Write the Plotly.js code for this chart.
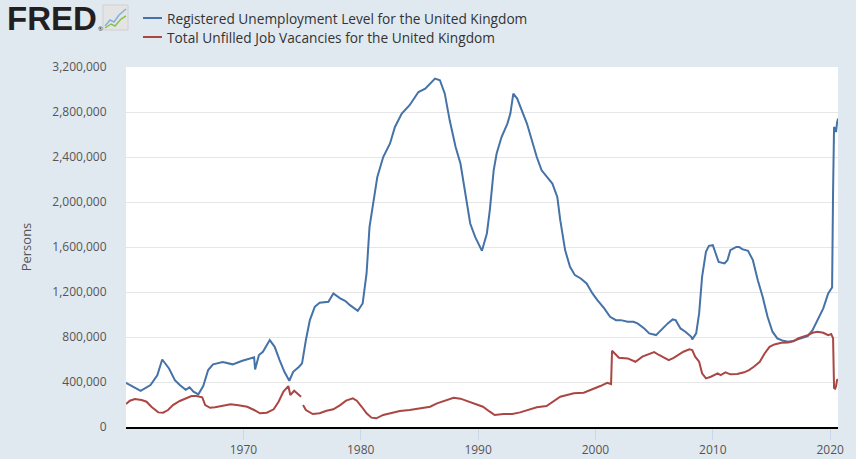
<!DOCTYPE html>
<html>
<head>
<meta charset="utf-8">
<script src="https://cdn.plot.ly/plotly-3.0.1.min.js"></script>
<style>
html,body{margin:0;padding:0;background:#e1e9f0;}
#chart{width:856px;height:459px;}
</style>
</head>
<body>
<div id="chart"></div>
<script>
// Registered Unemployment Level for the United Kingdom (persons)
const unempDates = [
"1960-01","1961-04","1962-02","1962-09","1963-02","1963-09","1964-03","1964-08","1965-02","1965-06",
"1965-10","1966-03","1966-08","1967-01","1967-06","1968-04","1969-02","1969-12","1970-12","1971-01",
"1971-05","1971-09","1972-04","1972-09","1973-02","1973-07","1973-12","1974-04","1974-10","1975-01",
"1975-05","1975-09","1976-02","1976-07","1977-04","1977-09","1978-04","1978-09","1979-02","1979-10",
"1980-03","1980-07","1980-10","1981-02","1981-06","1981-12","1982-07","1982-12","1983-07","1984-03",
"1984-12","1985-07","1985-12","1986-05","1986-10","1987-03","1987-08","1988-02","1988-07","1988-12",
"1989-05","1989-10","1990-03","1990-05","1990-10","1991-01","1991-05","1991-08","1992-01","1992-07",
"1992-10","1993-01","1993-05","1993-10","1994-03","1994-08","1995-01","1995-06","1995-11","1996-05",
"1996-10","1997-01","1997-06","1997-11","1998-04","1998-10","1999-04","1999-10","2000-03","2000-10",
"2001-04","2001-10","2002-03","2002-10","2003-04","2003-08","2004-03","2004-08","2005-03","2005-08",
"2006-03","2006-08","2006-11","2007-04","2007-09","2008-03","2008-04","2008-08","2008-11","2009-02",
"2009-06","2009-09","2010-01","2010-04","2010-07","2011-01","2011-04","2011-07","2012-01","2012-04",
"2012-07","2013-01","2013-06","2013-11","2014-04","2014-09","2015-02","2015-07","2016-01","2016-06",
"2016-11","2017-04","2017-09","2018-02","2018-07","2018-12","2019-06","2019-11","2020-02","2020-03",
"2020-04","2020-05","2020-06","2020-07","2020-08","2020-09"];
const unempValues = [
393000,322000,373000,460000,600000,520000,417000,373000,330000,352000,
314000,290000,364000,506000,557000,577000,557000,589000,619000,512000,
640000,669000,773000,713000,595000,491000,411000,491000,536000,566000,
773000,950000,1068000,1104000,1113000,1187000,1143000,1122000,1083000,1033000,
1098000,1365000,1779000,2016000,2223000,2400000,2520000,2667000,2786000,2860000,
2978000,3008000,3052000,3097000,3082000,2963000,2726000,2489000,2342000,2075000,
1809000,1690000,1601000,1566000,1720000,1927000,2282000,2431000,2578000,2697000,
2786000,2963000,2919000,2815000,2697000,2549000,2400000,2282000,2223000,2164000,
2045000,1838000,1572000,1424000,1350000,1320000,1276000,1187000,1128000,1054000,
980000,950000,950000,935000,935000,921000,876000,832000,817000,861000,
921000,956000,950000,876000,847000,802000,779000,832000,1010000,1335000,
1557000,1610000,1616000,1542000,1468000,1454000,1483000,1572000,1601000,1601000,
1581000,1566000,1483000,1305000,1157000,980000,847000,788000,766000,758000,
764000,779000,797000,808000,861000,950000,1054000,1187000,1232000,1240000,
2100000,2667000,2650000,2622000,2700000,2742000];

// Total Unfilled Job Vacancies for the United Kingdom (persons); null = missing
const vacDates = [
"1960-01","1960-05","1960-10","1961-05","1961-10","1962-03","1962-10","1963-03","1963-08","1964-01",
"1964-08","1965-03","1965-08","1966-01","1966-07","1966-10","1967-03","1967-08","1968-03","1968-12",
"1969-08","1970-05","1970-12","1971-06","1972-01","1972-08","1973-01","1973-06","1973-11","1974-01",
"1974-05","1974-10","1974-12","1975-01","1975-02","1975-05","1975-12","1976-07","1977-02","1977-09",
"1978-04","1978-10","1979-05","1979-09","1980-02","1980-07","1980-12","1981-05","1981-12","1982-07",
"1983-05","1984-03","1985-02","1985-12","1986-07","1987-03","1987-12","1988-07","1989-01","1989-10",
"1990-06","1991-01","1991-06","1992-03","1992-12","1993-08","1994-05","1995-01","1995-11","1996-06",
"1997-01","1997-08","1998-03","1999-01","1999-10","2000-06","2001-01","2001-05","2001-06","2001-09",
"2002-01","2002-10","2003-06","2004-01","2004-08","2005-01","2005-06","2005-11","2006-04","2006-09",
"2007-02","2007-07","2008-01","2008-04","2008-07","2008-11","2009-02","2009-06","2009-11","2010-06",
"2010-09","2011-02","2011-07","2012-02","2012-09","2013-02","2013-07","2014-01","2014-06","2014-11",
"2015-04","2015-11","2016-06","2016-12","2017-04","2017-09","2018-02","2018-07","2018-12","2019-06",
"2019-11","2020-02","2020-03","2020-04","2020-05","2020-06","2020-07","2020-08","2020-09"];
const vacValues = [
204000,234000,249000,240000,225000,180000,130000,127000,151000,195000,
231000,260000,275000,275000,264000,195000,171000,175000,186000,202000,
193000,180000,151000,122000,127000,157000,225000,314000,364000,284000,
322000,278000,269000,null,195000,151000,115000,122000,145000,157000,
195000,234000,255000,234000,180000,122000,83000,77000,107000,122000,
142000,151000,166000,180000,210000,234000,260000,252000,234000,210000,
180000,136000,107000,115000,115000,130000,151000,175000,186000,225000,
269000,284000,299000,305000,335000,364000,393000,382000,678000,654000,
615000,610000,580000,625000,648000,666000,640000,619000,595000,615000,
640000,669000,690000,684000,625000,580000,477000,432000,447000,477000,
462000,486000,468000,471000,486000,506000,536000,580000,654000,713000,
734000,749000,752000,764000,788000,802000,817000,838000,847000,838000,
817000,826000,810000,790000,346000,340000,360000,417000,424000];

const seriesNames = ["Registered Unemployment Level for the United Kingdom",
                     "Total Unfilled Job Vacancies for the United Kingdom"];
const seriesColors = ['#4572a7', '#aa4643'];
const yTicks = [0,400000,800000,1200000,1600000,2000000,2400000,2800000,3200000];
const xTicks = ["1970-01-01","1980-01-01","1990-01-01","2000-01-01","2010-01-01","2020-01-01"];
const xTickText = ["1970","1980","1990","2000","2010","2020"];

// pixel -> paper helpers for decorations (plot area 126..838 x, 67..427 y)
const PL=126, PR=838, PT=67, PB=427;
const px = x => (x-PL)/(PR-PL);
const py = y => (PB-y)/(PB-PT);

const traces = [
  {x: unempDates, y: unempValues, name: seriesNames[0], type:'scatter', mode:'lines',
   line:{color:seriesColors[0], width:2}},
  {x: vacDates, y: vacValues, name: seriesNames[1], type:'scatter', mode:'lines',
   connectgaps:false, line:{color:seriesColors[1], width:2}}
];

// manual legend (line sample + text) placed like the FRED header
const legendY = [18, 37];
const legendShapes = legendY.map((yy,i)=>({type:'line', xref:'paper', yref:'paper',
  x0:px(143), x1:px(162), y0:py(yy), y1:py(yy), line:{color:seriesColors[i], width:2}}));
const legendAnn = legendY.map((yy,i)=>({xref:'paper', yref:'paper', x:px(165), y:py(yy),
  xanchor:'left', yanchor:'middle', text:seriesNames[i], showarrow:false,
  font:{size:13.7, color:'#333333'}}));

const layout = {
  width:856, height:459,
  margin:{l:PL, r:856-PR, t:PT, b:459-PB, pad:0, autoexpand:false},
  paper_bgcolor:'#e1e9f0', plot_bgcolor:'#ffffff',
  font:{family:'"Open Sans", sans-serif', color:'#333333', size:12},
  showlegend:false,
  xaxis:{type:'date', range:['1960-01-01','2020-09-01'], tickvals:xTicks, ticktext:xTickText,
         ticks:'outside', ticklen:11, tickcolor:'#ccd6eb',
         showgrid:false, showline:true, linecolor:'#000000', linewidth:2, zeroline:false,
         tickfont:{size:12, color:'#555555'}},
  yaxis:{range:[0,3200000], tickvals:yTicks, tickformat:',d', showgrid:true, gridcolor:'#e6e6e6',
         gridwidth:1, zeroline:false, showline:false, ticks:'outside', ticklen:16,
         tickcolor:'rgba(0,0,0,0)', tickfont:{size:12, color:'#555555'},
         title:{text:'Persons', font:{size:13, color:'#555555'}, standoff:17}},
  annotations:[
    {xref:'paper', yref:'paper', x:px(5), y:py(18), xanchor:'left', yanchor:'middle',
     text:'<b>FRED</b>', showarrow:false,
     font:{family:'"Liberation Sans", Arial, sans-serif', size:33, color:'#231f20'}},
    {xref:'paper', yref:'paper', x:px(96), y:py(29), xanchor:'left', yanchor:'middle',
     text:'®', showarrow:false, font:{size:6, color:'#231f20'}}
  ].concat(legendAnn),
  shapes:[
    {type:'rect', xref:'paper', yref:'paper', x0:px(103), x1:px(128), y0:py(30), y1:py(5),
     fillcolor:'#e4e4e4', line:{color:'#d0d0d0', width:1}, layer:'above'},
    {type:'path', xref:'paper', yref:'paper', layer:'above',
     path:'M'+px(105)+','+py(26)+' L'+px(110)+','+py(20)+' L'+px(114)+','+py(22)+' L'+px(119)+','+py(15)+' L'+px(126)+','+py(9),
     line:{color:'#7fb2e0', width:1.5}},
    {type:'path', xref:'paper', yref:'paper', layer:'above',
     path:'M'+px(105)+','+py(28)+' L'+px(111)+','+py(24)+' L'+px(115)+','+py(26)+' L'+px(121)+','+py(19)+' L'+px(126)+','+py(16),
     line:{color:'#8cc04b', width:1.5}}
  ].concat(legendShapes)
};

Plotly.newPlot('chart', traces, layout, {displayModeBar:false, staticPlot:true});
</script>
</body>
</html>
